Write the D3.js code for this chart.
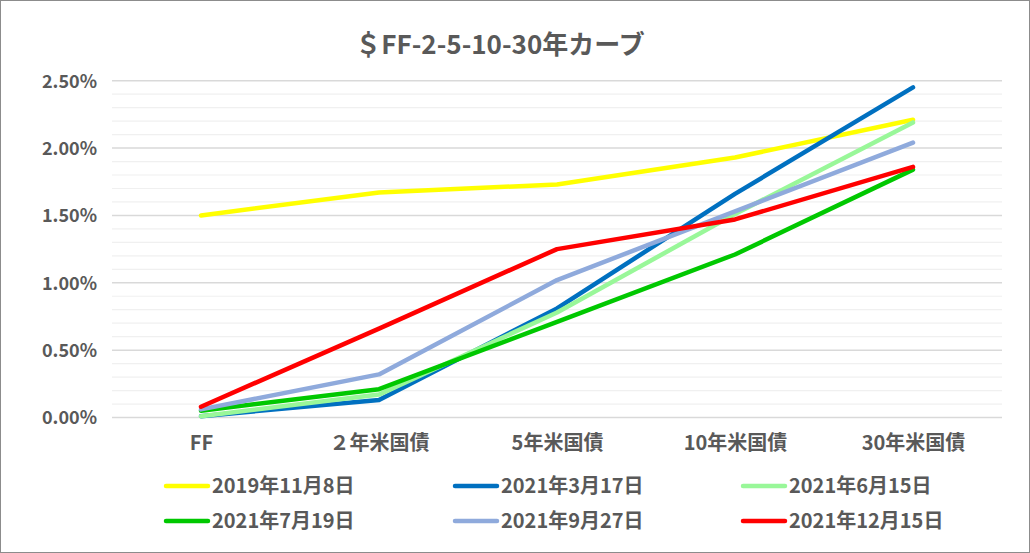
<!DOCTYPE html>
<html><head><meta charset="utf-8">
<script src="https://cdn.jsdelivr.net/npm/d3@7"></script>
<style>
html,body{margin:0;padding:0;background:#fff;}
svg{display:block;}
text{font-family:"Noto Sans CJK JP","Noto Sans",sans-serif;font-weight:bold;fill:#595959;}
</style></head>
<body>
<script>
const categories = ["FF", "２年米国債", "5年米国債", "10年米国債", "30年米国債"];
const seriesNames = ["2019年11月8日", "2021年3月17日", "2021年6月15日", "2021年7月19日", "2021年9月27日", "2021年12月15日"];
const seriesColors = ["#FFFF00", "#0070C0", "#99F799", "#00C800", "#8FAADC", "#FF0000"];
const v2019_11_08 = [1.50, 1.67, 1.73, 1.93, 2.21];
const v2021_03_17 = [0.01, 0.13, 0.81, 1.66, 2.45];
const v2021_06_15 = [0.01, 0.17, 0.78, 1.51, 2.19];
const v2021_07_19 = [0.05, 0.21, 0.71, 1.21, 1.84];
const v2021_09_27 = [0.06, 0.32, 1.02, 1.53, 2.04];
const v2021_12_15 = [0.08, 0.66, 1.25, 1.47, 1.86];
const seriesValues = [v2019_11_08, v2021_03_17, v2021_06_15, v2021_07_19, v2021_09_27, v2021_12_15];
const yTicks = [0, 0.5, 1.0, 1.5, 2.0, 2.5];
const yMinorTicks = d3.range(0, 2.51, 0.1);
const titleText = "＄FF-2-5-10-30年カーブ";

const W = 1030, H = 553;
const svg = d3.select("body").append("svg").attr("width", W).attr("height", H);
svg.append("rect").attr("x",0.5).attr("y",0.5).attr("width",W-1).attr("height",H-1)
  .attr("fill","#fff").attr("stroke","#8c8c8c").attr("stroke-width",1);

const plot = {left:112, right:1002, top:80.7, bottom:417.5};
const x = d3.scalePoint().domain(categories).range([plot.left, plot.right]).padding(0.5);
const y = d3.scaleLinear().domain([0, 2.5]).range([plot.bottom, plot.top]);

// minor gridlines
svg.append("g").selectAll("line").data(yMinorTicks.filter(t => Math.abs(t*2 - Math.round(t*2)) > 1e-6))
  .join("line").attr("x1",plot.left).attr("x2",plot.right)
  .attr("y1",d=>y(d)).attr("y2",d=>y(d)).attr("stroke","#F0F0F0").attr("stroke-width",1.2);
// major gridlines
svg.append("g").selectAll("line").data(yTicks).join("line")
  .attr("x1",plot.left).attr("x2",plot.right)
  .attr("y1",d=>y(d)).attr("y2",d=>y(d)).attr("stroke","#D9D9D9").attr("stroke-width",1.5);

// y axis labels
const yAxis = d3.axisLeft(y).tickValues(yTicks).tickFormat(d => d.toFixed(2) + "%").tickSize(0).tickPadding(0);
const gy = svg.append("g").attr("transform",`translate(${plot.left-15},0)`).call(yAxis);
gy.select(".domain").remove();
gy.selectAll("text").style("font-size","18px").attr("fill","#595959").attr("dy","0.35em");

// x axis labels
const xAxis = d3.axisBottom(x).tickSize(0).tickPadding(0);
const gx = svg.append("g").attr("transform",`translate(0,${plot.bottom+18})`).call(xAxis);
gx.select(".domain").remove();
gx.selectAll("text").style("font-size","20px").attr("fill","#595959").attr("dy","0.71em");

// lines
const line = d3.line().x((d,i)=>x(categories[i])).y(d=>y(d));
svg.append("g").selectAll("path").data(seriesValues).join("path")
  .attr("d", d=>line(d)).attr("fill","none")
  .attr("stroke",(d,i)=>seriesColors[i]).attr("stroke-width",4.5)
  .attr("stroke-linecap","round").attr("stroke-linejoin","round");

// title
svg.append("text").attr("x",500).attr("y",54).attr("text-anchor","middle")
  .style("font-size","26px").text(titleText);

// legend
const legendCols = [166, 455, 743];
const legendRows = [486, 521];
const lg = svg.append("g").selectAll("g").data(seriesNames).join("g")
  .attr("transform",(d,i)=>`translate(${legendCols[i%3]},${legendRows[Math.floor(i/3)]})`);
lg.append("line").attr("x1",0).attr("x2",42).attr("y1",0).attr("y2",0)
  .attr("stroke",(d,i)=>seriesColors[i]).attr("stroke-width",4.5).attr("stroke-linecap","round");
lg.append("text").attr("x",46).attr("y",0).attr("dy","0.36em").style("font-size","20px").text(d=>d);
</script>
</body></html>
